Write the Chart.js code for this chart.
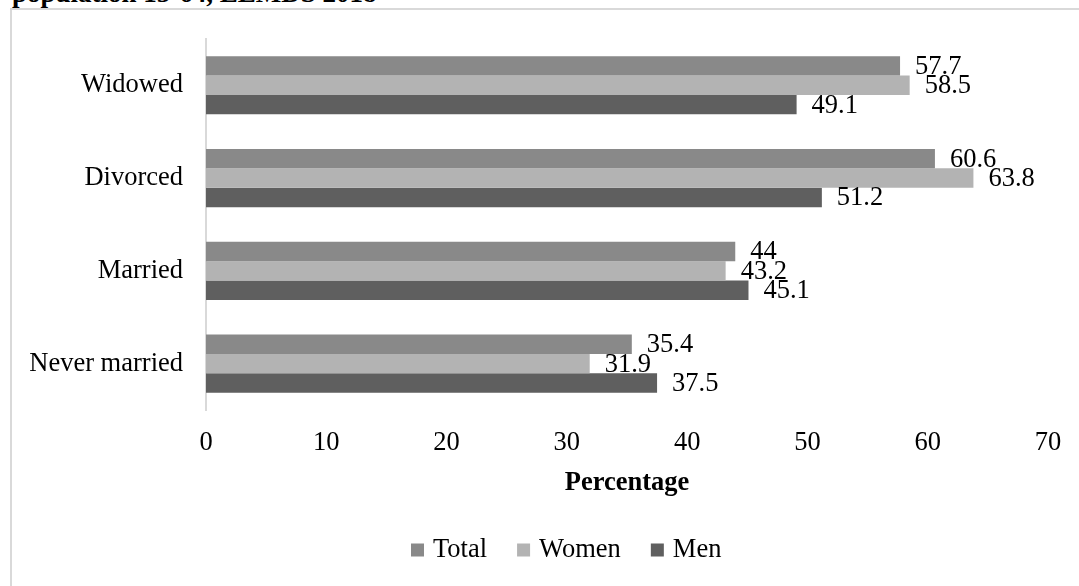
<!DOCTYPE html>
<html>
<head>
<meta charset="utf-8">
<script src="https://cdn.jsdelivr.net/npm/chart.js@4/dist/chart.umd.min.js"></script>
<style>
  html, body { margin: 0; padding: 0; background: #fff; overflow: hidden; }
  body { width: 1079px; height: 586px; position: relative; }
  #title {
    position: absolute; left: 12px; top: -22px; margin: 0;
    font: bold 27px "Liberation Serif", "Times New Roman", serif;
    color: #000; white-space: nowrap;
  }
  #frame {
    position: absolute; left: 10px; top: 8px; width: 1200px; height: 700px;
    border-left: 2px solid #d9d9d9; border-top: 2px solid #d9d9d9;
  }
  #wrap { position: absolute; left: 0; top: 0; width: 1079px; height: 586px; }
</style>
</head>
<body>
<div id="title">population 15-64, LLMDS 2018</div>
<div id="frame"></div>
<div id="wrap"><canvas id="chart" width="1079" height="586"></canvas></div>
<script>
// Marital status categories, top to bottom
const categories = ['Widowed', 'Divorced', 'Married', 'Never married'];

// Percentages per series
const totalValues = [57.7, 60.6, 44, 35.4];
const womenValues = [58.5, 63.8, 43.2, 31.9];
const menValues   = [49.1, 51.2, 45.1, 37.5];

const seriesNames = ['Total', 'Women', 'Men'];
const seriesColors = ['#898989', '#b3b3b3', '#5f5f5f'];

const serif = '"Liberation Serif", "Times New Roman", serif';
const textSize = 26.5;

// Writes each bar's value just past its end
const valueLabels = {
  id: 'valueLabels',
  afterDatasetsDraw(chart) {
    const ctx = chart.ctx;
    ctx.save();
    ctx.font = textSize + 'px ' + serif;
    ctx.fillStyle = '#000';
    ctx.textAlign = 'left';
    ctx.textBaseline = 'middle';
    chart.data.datasets.forEach((ds, i) => {
      const meta = chart.getDatasetMeta(i);
      meta.data.forEach((bar, j) => {
        ctx.fillText(String(ds.data[j]), bar.x + 15, bar.y + 1);
      });
    });
    ctx.restore();
  }
};

// Row of square swatches with series names under the axis title
const swatchLegend = {
  id: 'swatchLegend',
  afterDraw(chart) {
    const ctx = chart.ctx;
    ctx.save();
    ctx.font = textSize + 'px ' + serif;
    ctx.textBaseline = 'middle';
    ctx.textAlign = 'left';
    const box = 13, gap = 9, spacing = 30, cy = 550;
    let x = 411;
    chart.data.datasets.forEach((ds) => {
      ctx.fillStyle = ds.backgroundColor;
      ctx.fillRect(x, cy - box / 2, box, box);
      x += box + gap;
      ctx.fillStyle = '#000';
      ctx.fillText(ds.label, x, cy);
      x += ctx.measureText(ds.label).width + spacing;
    });
    ctx.restore();
  }
};

new Chart(document.getElementById('chart'), {
  type: 'bar',
  data: {
    labels: categories,
    datasets: [
      { label: seriesNames[0], data: totalValues, backgroundColor: seriesColors[0] },
      { label: seriesNames[1], data: womenValues, backgroundColor: seriesColors[1] },
      { label: seriesNames[2], data: menValues,   backgroundColor: seriesColors[2] }
    ]
  },
  options: {
    indexAxis: 'y',
    responsive: false,
    animation: false,
    devicePixelRatio: 1,
    layout: { padding: { left: 0, right: 31, top: 37, bottom: 0 } },
    datasets: {
      bar: { categoryPercentage: 0.627, barPercentage: 1.0, borderWidth: 0 }
    },
    scales: {
      x: {
        min: 0, max: 70,
        ticks: { stepSize: 10, color: '#000', font: { family: serif, size: textSize }, padding: 17 },
        grid: { display: false, drawTicks: false },
        border: { display: false },
        title: {
          display: true, text: 'Percentage', color: '#000',
          font: { family: serif, size: textSize, weight: 'bold' },
          padding: { top: 0, bottom: 87 }
        },
        afterFit(scale) { scale.height = 176; }
      },
      y: {
        ticks: { color: '#000', font: { family: serif, size: textSize }, padding: 23 },
        grid: { display: false, drawTicks: false },
        border: { display: true, color: '#d9d9d9', width: 2 },
        afterFit(scale) { scale.width = 206; }
      }
    },
    plugins: {
      legend: { display: false },
      tooltip: { enabled: false }
    }
  },
  plugins: [valueLabels, swatchLegend]
});
</script>
</body>
</html>
